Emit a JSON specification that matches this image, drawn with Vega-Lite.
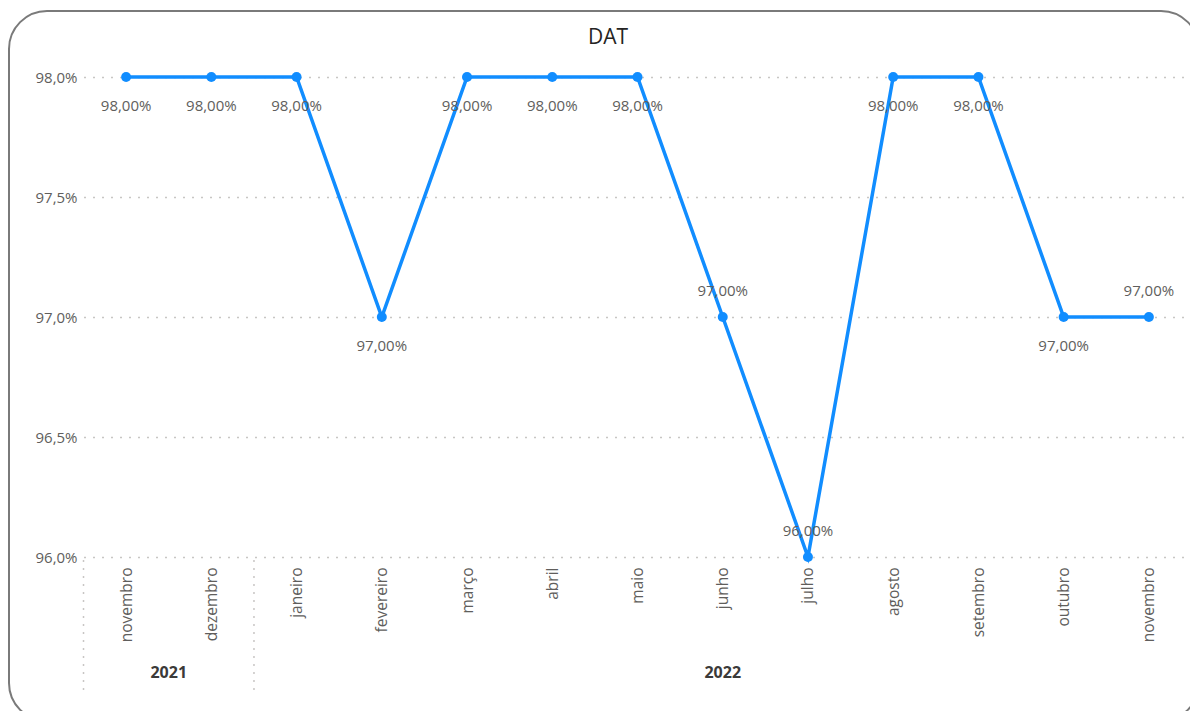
{
  "$schema": "https://vega.github.io/schema/vega-lite/v6.json",
  "autosize": "none",
  "width": 1190,
  "height": 710,
  "padding": {"left": 9, "top": 11, "right": 0, "bottom": 0},
  "background": "white",
  "config": {
    "locale": {"number": {"decimal": ",", "thousands": ".", "grouping": [3], "currency": ["R$ ", ""]}},
    "view": {"stroke": "#7A7A7A", "strokeWidth": 2, "cornerRadius": 38},
    "font": "Open Sans"
  },
  "title": {"text": "DAT", "fontSize": 21, "font": "Open Sans", "fontWeight": 500, "color": "#252423", "anchor": "middle", "offset": -37, "dx": 4},
  "data": {"values": [
    {"idx": 0, "periodo": "novembro 2021", "ano": "2021", "valor": 0.98},
    {"idx": 1, "periodo": "dezembro 2021", "ano": "2021", "valor": 0.98},
    {"idx": 2, "periodo": "janeiro 2022", "ano": "2022", "valor": 0.98},
    {"idx": 3, "periodo": "fevereiro 2022", "ano": "2022", "valor": 0.97},
    {"idx": 4, "periodo": "março 2022", "ano": "2022", "valor": 0.98},
    {"idx": 5, "periodo": "abril 2022", "ano": "2022", "valor": 0.98},
    {"idx": 6, "periodo": "maio 2022", "ano": "2022", "valor": 0.98},
    {"idx": 7, "periodo": "junho 2022", "ano": "2022", "valor": 0.97},
    {"idx": 8, "periodo": "julho 2022", "ano": "2022", "valor": 0.96},
    {"idx": 9, "periodo": "agosto 2022", "ano": "2022", "valor": 0.98},
    {"idx": 10, "periodo": "setembro 2022", "ano": "2022", "valor": 0.98},
    {"idx": 11, "periodo": "outubro 2022", "ano": "2022", "valor": 0.97},
    {"idx": 12, "periodo": "novembro 2022", "ano": "2022", "valor": 0.97}
  ]},
  "layer": [
    {
      "encoding": {
        "x": {
          "field": "periodo", "type": "ordinal", "sort": null,
          "scale": {"type": "point", "padding": 0.5, "range": [74.5, 1182.5]},
          "axis": {"orient": "bottom", "offset": -164, "labelAngle": -90, "labelAlign": "right", "labelBaseline": "middle", "labelPadding": 10, "labelExpr": "split(datum.label, ' ')[0]", "labelFontSize": 15.5, "labelColor": "#605E5C", "ticks": false, "domain": false, "grid": false, "title": null}
        },
        "y": {
          "field": "valor", "type": "quantitative",
          "scale": {"domain": [0.96, 0.98], "range": [546, 66], "nice": false, "zero": false},
          "axis": {"orient": "left", "offset": -68, "format": ".1%", "values": [0.96, 0.965, 0.97, 0.975, 0.98], "labelFontSize": 15, "labelColor": "#605E5C", "labelPadding": 0, "ticks": false, "domain": false, "grid": true, "gridDash": [2, 7], "gridColor": "#C8C6C4", "gridWidth": 1.5, "title": null}
        }
      },
      "layer": [
        {"mark": {"type": "line", "color": "#118DFF", "strokeWidth": 3.5}},
        {"mark": {"type": "point", "filled": true, "opacity": 1, "color": "#118DFF", "size": 100}},
        {
          "transform": [{"filter": "indexof(['junho 2022', 'julho 2022', 'novembro 2022'], datum.periodo) < 0"}],
          "mark": {"type": "text", "dy": 29, "fontSize": 15, "color": "#605E5C"},
          "encoding": {"text": {"field": "valor", "type": "quantitative", "format": ".2%"}}
        },
        {
          "transform": [{"filter": "indexof(['junho 2022', 'julho 2022', 'novembro 2022'], datum.periodo) >= 0"}],
          "mark": {"type": "text", "dy": -26, "fontSize": 15, "color": "#605E5C"},
          "encoding": {"text": {"field": "valor", "type": "quantitative", "format": ".2%"}}
        }
      ]
    },
    {
      "transform": [{"aggregate": [{"op": "mean", "field": "idx", "as": "centro"}, {"op": "min", "field": "idx", "as": "inicio"}], "groupby": ["ano"]}],
      "layer": [
        {
          "mark": {"type": "rule", "strokeDash": [2, 6], "color": "#C8C6C4", "strokeWidth": 1.5, "xOffset": -42.6},
          "encoding": {
            "x": {"field": "inicio", "type": "quantitative", "scale": {"domain": [-0.5, 12.5], "range": [74.5, 1182.5], "nice": false, "zero": false}, "axis": null},
            "y": {"value": 549},
            "y2": {"value": 679}
          }
        },
        {
          "mark": {"type": "text", "fontSize": 16, "fontWeight": "bold", "color": "#3B3A39"},
          "encoding": {
            "x": {"field": "centro", "type": "quantitative", "scale": {"domain": [-0.5, 12.5], "range": [74.5, 1182.5], "nice": false, "zero": false}, "axis": null},
            "y": {"value": 662},
            "text": {"field": "ano", "type": "nominal"}
          }
        }
      ]
    }
  ],
  "resolve": {"scale": {"x": "independent"}, "axis": {"x": "independent"}}
}
